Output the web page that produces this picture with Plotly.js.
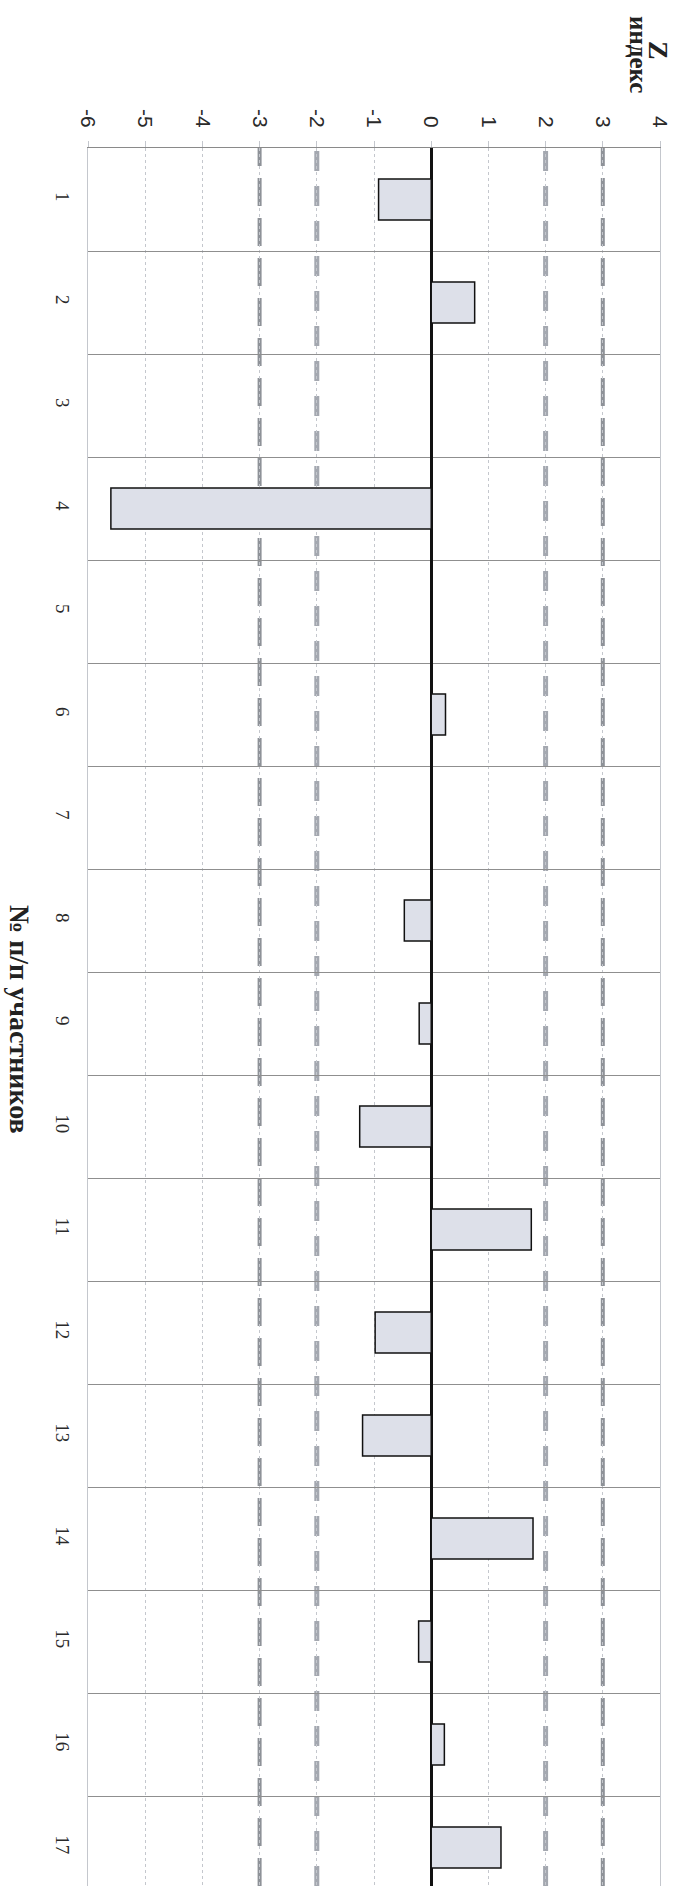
<!DOCTYPE html>
<html>
<head>
<meta charset="utf-8">
<script src="https://cdn.plot.ly/plotly-3.0.1.min.js"></script>
<style>
html,body{margin:0;padding:0;background:#fff;overflow:hidden;}
#chart{width:678px;height:1886px;}
</style>
</head>
<body>
<div id="chart"></div>
<script>
// Participant numbers (category axis)
var participants = ['1','2','3','4','5','6','7','8','9','10','11','12','13','14','15','16','17'];
// Z index value per participant
var zValues = [-0.92, 0.76, 0, -5.6, 0, 0.25, 0, -0.47, -0.21, -1.25, 1.75, -0.98, -1.2, 1.78, -0.22, 0.23, 1.22];
// Value axis ticks
var valueTicks = [-6, -5, -4, -3, -2, -1, 0, 1, 2, 3, 4];
var valueTickText = ['-6', '-5', '-4', '-3', '-2', '-1', '0', '1', '2', '3', '4'];
// Threshold reference levels (dashed lines)
var outerLevels = [-3, 3];
var innerLevels = [-2, 2];

var trace = {
  type: 'bar',
  orientation: 'h',
  y: participants,
  x: zValues,
  width: 0.4,
  marker: {color: '#dde0e9', line: {color: '#111', width: 1.5}},
  hoverinfo: 'skip'
};

var shapes = [];
outerLevels.forEach(function (v) {
  shapes.push({type: 'line', layer: 'below', xref: 'x', yref: 'paper', x0: v, x1: v, y0: 0, y1: 1,
    line: {color: '#8e9298', width: 4, dash: '28px,12px'}});
});
innerLevels.forEach(function (v) {
  shapes.push({type: 'line', layer: 'below', xref: 'x', yref: 'paper', x0: v, x1: v, y0: 0, y1: 1,
    line: {color: '#a4a8b0', width: 5, dash: '20px,15px'}});
});

var rowsVisible = (1886 - 148) / 103;

var layout = {
  width: 678,
  height: 1886,
  margin: {l: 88, r: 18, t: 148, b: 0, pad: 0},
  paper_bgcolor: '#ffffff',
  plot_bgcolor: '#ffffff',
  showlegend: false,
  bargap: 0.6,
  xaxis: {
    side: 'top',
    range: [-6, 4],
    tickvals: valueTicks,
    ticktext: valueTickText,
    tickangle: 90,
    ticks: 'outside',
    ticklen: 6,
    tickcolor: '#c4c7cd',
    ticklabelstandoff: 6,
    tickfont: {family: 'Liberation Sans, Arial, sans-serif', size: 21, color: '#2a2a2a'},
    showgrid: true,
    gridcolor: '#c4c7cd',
    gridwidth: 1,
    griddash: 'dot',
    zeroline: true,
    zerolinecolor: '#111111',
    zerolinewidth: 3,
    showline: true,
    mirror: true,
    linecolor: '#8a8a8a',
    linewidth: 1,
    fixedrange: true
  },
  yaxis: {
    type: 'category',
    range: [-0.5 + rowsVisible, -0.5],
    tickson: 'boundaries',
    tickangle: 90,
    ticks: '',
    ticklabelstandoff: 8,
    tickfont: {family: 'Liberation Serif, Times New Roman, serif', size: 19, color: '#2a2a2a'},
    showgrid: true,
    gridcolor: '#8f8f8f',
    gridwidth: 1,
    zeroline: false,
    showline: true,
    mirror: true,
    linecolor: '#c4c7cd',
    linewidth: 1,
    fixedrange: true
  },
  shapes: shapes,
  annotations: [
    {text: '<b>Z</b>', xref: 'paper', yref: 'paper', x: 1, y: 1, xanchor: 'center', yanchor: 'middle',
      xshift: 659 - 660, yshift: 148 - 50, textangle: 90, showarrow: false,
      font: {family: 'Liberation Serif, Times New Roman, serif', size: 28, color: '#222'}},
    {text: '<b>индекс</b>', xref: 'paper', yref: 'paper', x: 1, y: 1, xanchor: 'center', yanchor: 'middle',
      xshift: 639 - 660, yshift: 148 - 54, textangle: 90, showarrow: false,
      font: {family: 'Liberation Serif, Times New Roman, serif', size: 25, color: '#222'}},
    {text: '<b>№ п/п участников</b>', xref: 'paper', yref: 'paper', x: 0, y: 1, xanchor: 'center', yanchor: 'middle',
      xshift: 20 - 88, yshift: 148 - 1019, textangle: 90, showarrow: false,
      font: {family: 'Liberation Serif, Times New Roman, serif', size: 28, color: '#222'}}
  ]
};

Plotly.newPlot('chart', [trace], layout, {displayModeBar: false, staticPlot: true});
</script>
</body>
</html>
